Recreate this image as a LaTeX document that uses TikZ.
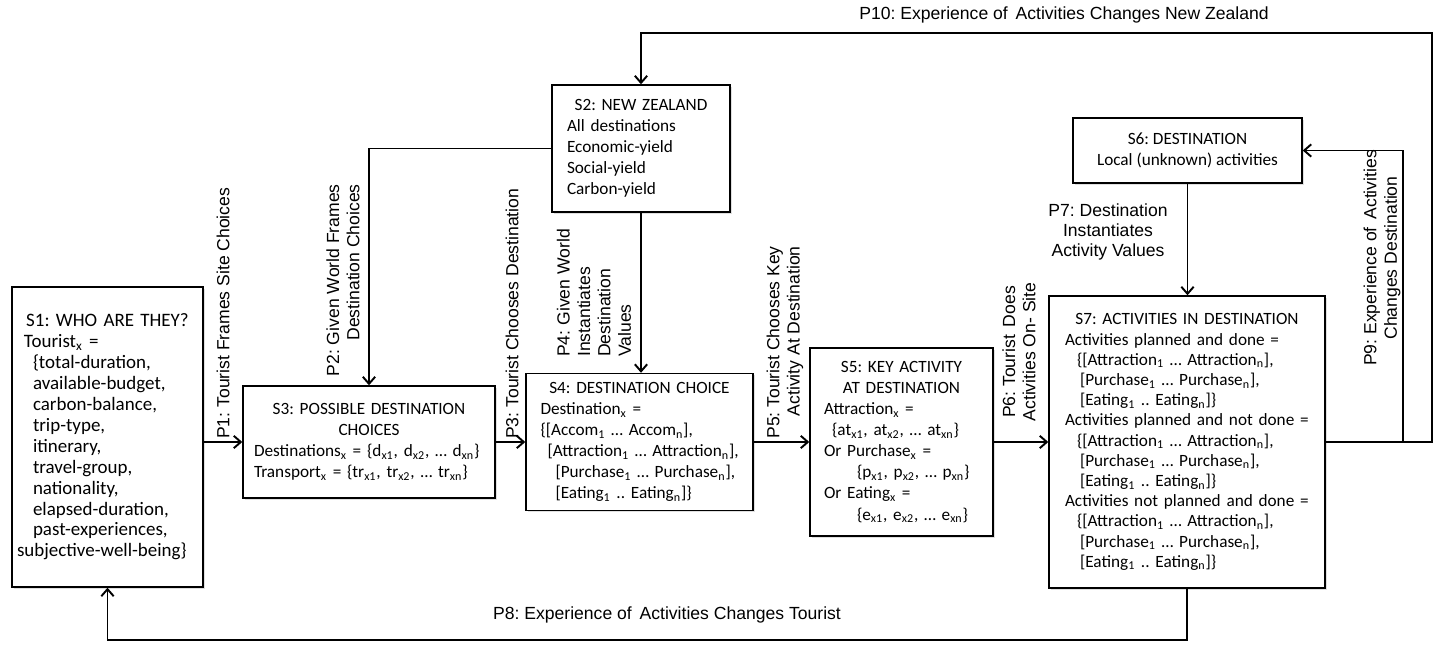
\documentclass[tikz,border=0pt]{standalone}
\usepackage{fontspec}
\setmainfont{Carlito}
\newfontfamily\labelfont{Liberation Sans}
\usetikzlibrary{arrows.meta, positioning, shadows}
\newcommand{\boxtitle}[1]{\makebox[\linewidth]{#1}}
\newcommand{\indt}[1]{\hspace*{#1}}
\newcommand{\sbs}[1]{\textsubscript{#1}}
\frenchspacing
\tikzset{
  statebox/.style={
    draw, line width=0.8pt, fill=white,
    align=left, inner sep=0pt,
    font=\fontsize{9.8}{12}\selectfont,
    drop shadow={shadow xshift=1pt, shadow yshift=-1pt, opacity=.25}
  },
  plabel/.style={font=\labelfont\fontsize{10}{11.6}\selectfont, inner sep=0.5pt},
  flow/.style={line width=1.1pt, -{Straight Barb[length=4pt,width=7pt]}}
}

\begin{document}
\begin{tikzpicture}
\path[fill=white, use as bounding box] (0,0) rectangle (28.72,12.96);
% Zustaende
\node[statebox, minimum width=3.82cm, minimum height=6cm, text width=3.62cm,
      font=\fontsize{10.8}{11.9}\selectfont] (S1) at (2.15,4.22) {%
\boxtitle{S1: WHO ARE THEY?}\\
\indt{0.14cm}Tourist\sbs{x} =\\
\indt{0.32cm}\{total-duration,\\
\indt{0.32cm}available-budget,\\
\indt{0.32cm}carbon-balance,\\
\indt{0.32cm}trip-type,\\
\indt{0.32cm}itinerary,\\
\indt{0.32cm}travel-group,\\
\indt{0.32cm}nationality,\\
\indt{0.32cm}elapsed-duration,\\
\indt{0.32cm}past-experiences,\\
subjective-well-being\}};
\node[statebox, minimum width=3.56cm, minimum height=2.54cm, text width=2.96cm] (S2) at (12.82,9.99) {%
\boxtitle{S2: NEW ZEALAND}\\
All destinations\\
Economic-yield\\
Social-yield\\
Carbon-yield};
\node[statebox, minimum width=5.04cm, minimum height=2.24cm, text width=4.6cm] (S3) at (7.38,4.12) {%
\boxtitle{S3: POSSIBLE DESTINATION}\\
\boxtitle{CHOICES}\\
Destinations\sbs{x} = \{d\sbs{x1}, d\sbs{x2}, … d\sbs{xn}\}\\
Transport\sbs{x} = \{tr\sbs{x1}, tr\sbs{x2}, … tr\sbs{xn}\}};
\node[statebox, minimum width=4.54cm, minimum height=2.74cm, text width=4.2cm] (S4) at (12.79,4.12) {%
\boxtitle{S4: DESTINATION CHOICE}\\
\indt{0.12cm}Destination\sbs{x} =\\
\indt{0.12cm}\{[Accom\sbs{1} … Accom\sbs{n}],\\
\indt{0.26cm}[Attraction\sbs{1} … Attraction\sbs{n}],\\
\indt{0.42cm}[Purchase\sbs{1} … Purchase\sbs{n}],\\
\indt{0.42cm}[Eating\sbs{1} .. Eating\sbs{n}]\}};
\node[statebox, minimum width=3.66cm, minimum height=3.76cm, text width=3.1cm] (S5) at (18.03,4.12) {%
\boxtitle{S5: KEY ACTIVITY}\\
\boxtitle{AT DESTINATION}\\
Attraction\sbs{x} =\\
\indt{0.16cm}\{at\sbs{x1}, at\sbs{x2}, … at\sbs{xn}\}\\
Or Purchase\sbs{x} =\\
\indt{0.66cm}\{p\sbs{x1}, p\sbs{x2}, … p\sbs{xn}\}\\
Or Eating\sbs{x} =\\
\indt{0.66cm}\{e\sbs{x1}, e\sbs{x2}, … e\sbs{xn}\}};
\node[statebox, minimum width=4.58cm, minimum height=1.3cm, align=center] (S6) at (23.75,9.95) {%
S6: DESTINATION\\
Local (unknown) activities};
\node[statebox, minimum width=5.52cm, minimum height=5.84cm, text width=5.0cm,
      font=\fontsize{9.8}{11.5}\selectfont] (S7) at (23.74,4.12) {%
\boxtitle{S7: ACTIVITIES IN DESTINATION}\\
\indt{0.06cm}Activities planned and done =\\
\indt{0.3cm}\{[Attraction\sbs{1} … Attraction\sbs{n}],\\
\indt{0.36cm}[Purchase\sbs{1} … Purchase\sbs{n}],\\
\indt{0.36cm}[Eating\sbs{1} .. Eating\sbs{n}]\}\\
\indt{0.06cm}Activities planned and not done =\\
\indt{0.3cm}\{[Attraction\sbs{1} … Attraction\sbs{n}],\\
\indt{0.36cm}[Purchase\sbs{1} … Purchase\sbs{n}],\\
\indt{0.36cm}[Eating\sbs{1} .. Eating\sbs{n}]\}\\
\indt{0.06cm}Activities not planned and done =\\
\indt{0.3cm}\{[Attraction\sbs{1} … Attraction\sbs{n}],\\
\indt{0.36cm}[Purchase\sbs{1} … Purchase\sbs{n}],\\
\indt{0.36cm}[Eating\sbs{1} .. Eating\sbs{n}]\}};
% Knickpunkte
\coordinate (p8) at (2.15,0.16);
\coordinate (p9) at (28.06,0);
\coordinate (p10) at (28.64,12.3);
% Uebergaenge
\draw[flow] (S1.east |- S3) -- (S3);
\draw[flow] (S2.west) -| (S3.north);
\draw[flow] (S3) -- (S4);
\draw[flow] (S2.south) -- (S2.south |- S4.north);
\draw[flow] (S4) -- (S5);
\draw[flow] (S5) -- (S7);
\draw[flow] (S6.south) -- (S6.south |- S7.north);
\draw[flow] (S7.south) |- (p8) -- (S1.south);
\draw[flow] (S7.east -| p9) |- (S6.east);
\draw[flow] (S7.east) -| (p10) -| (S2.north);
% Beschriftungen
\node[plabel, rotate=90, anchor=west] (l1) at (4.46,4.16) {P1: Tourist Frames Site Choices};
\node[plabel, rotate=90, anchor=east, align=right] (l2) at (6.86,9.30) {P2: Given World Frames\\Destination Choices};
\node[plabel, rotate=90, anchor=west] (l3) at (10.24,4.16) {P3: Tourist Chooses Destination};
\node[plabel, rotate=90, anchor=west, align=left] (l4) at (11.88,5.80) {P4: Given World\\Instantiates\\Destination\\Values};
\node[plabel, rotate=90, anchor=east, align=right] (l5) at (15.70,8.06) {P5: Tourist Chooses Key\\Activity At Destination};
\node[plabel, rotate=90, align=center] (l6) at (20.38,5.92) {P6: Tourist\, Does\\Activities On- Site};
\node[plabel, align=center] (l7) at (22.16,8.32) {P7: Destination\\Instantiates\\Activity Values};
\node[plabel] (l8) at (13.34,0.66) {P8: Experience of\, Activities Changes Tourist};
\node[plabel, rotate=90, align=center] (l9) at (27.64,7.80) {P9: Experience of\, Activities\\Changes Destination};
\node[plabel] (l10) at (21.28,12.66) {P10: Experience of\, Activities Changes New Zealand};
\end{tikzpicture}
\end{document}
